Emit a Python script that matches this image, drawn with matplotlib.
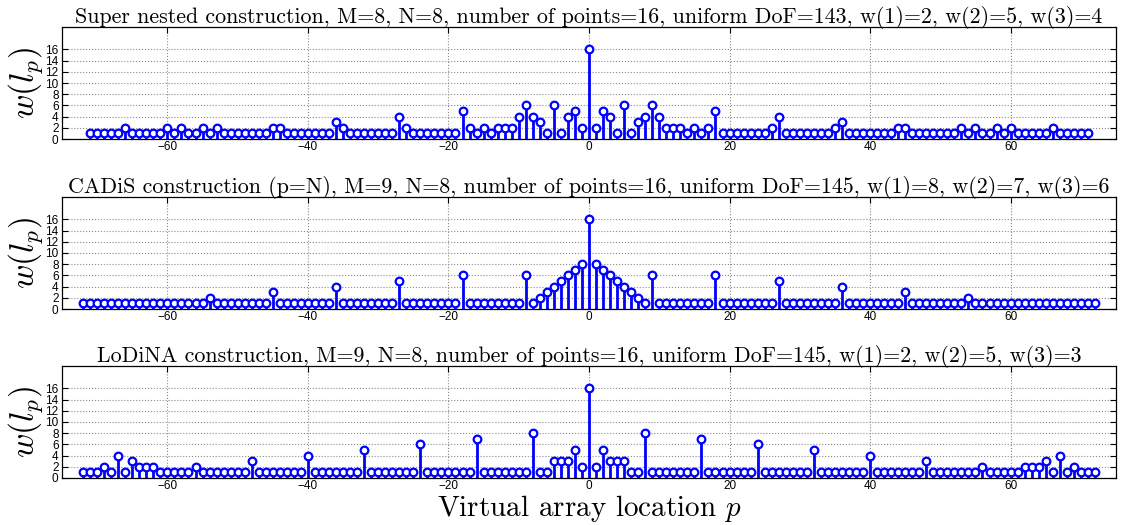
import numpy as np
import matplotlib
matplotlib.use('Agg')
import matplotlib.pyplot as plt

plt.rcParams['mathtext.fontset'] = 'cm'
plt.rcParams['axes.formatter.use_mathtext'] = False

# Virtual array locations (difference coarray lags)
lags_nested = np.arange(-71, 72)
lags_cadis = np.arange(-72, 73)
lags_lodina = np.arange(-72, 73)

# Weight functions w(l_p)
w_nested = [1, 1, 1, 1, 1, 2, 1, 1, 1, 1, 1,
            2, 1, 2, 1, 1, 2, 1, 2, 1, 1,
            1, 1, 1, 1, 1, 2, 2, 1, 1, 1,
            1, 1, 1, 1, 3, 2, 1, 1, 1, 1,
            1, 1, 1, 4, 2, 1, 1, 1, 1, 1,
            1, 1, 5, 2, 1, 2, 1, 2, 2, 2,
            4, 6, 4, 3, 1, 6, 1, 4, 5, 2,
            16,
            2, 5, 4, 1, 6, 1, 3, 4, 6, 4,
            2, 2, 2, 1, 2, 1, 2, 5, 1, 1,
            1, 1, 1, 1, 1, 2, 4, 1, 1, 1,
            1, 1, 1, 1, 2, 3, 1, 1, 1, 1,
            1, 1, 1, 2, 2, 1, 1, 1, 1, 1,
            1, 1, 2, 1, 2, 1, 1, 2, 1, 2,
            1, 1, 1, 1, 1, 2, 1, 1, 1, 1, 1]

w_cadis = [1, 1,
           1, 1, 1, 1, 1, 1, 1, 1, 1, 1,
           1, 1, 1, 1, 1, 1, 2, 1, 1, 1,
           1, 1, 1, 1, 1, 3, 1, 1, 1, 1,
           1, 1, 1, 1, 4, 1, 1, 1, 1, 1,
           1, 1, 1, 5, 1, 1, 1, 1, 1, 1,
           1, 1, 6, 1, 1, 1, 1, 1, 1, 1,
           1, 6, 1, 2, 3, 4, 5, 6, 7, 8,
           16,
           8, 7, 6, 5, 4, 3, 2, 1, 6, 1,
           1, 1, 1, 1, 1, 1, 1, 6, 1, 1,
           1, 1, 1, 1, 1, 1, 5, 1, 1, 1,
           1, 1, 1, 1, 1, 4, 1, 1, 1, 1,
           1, 1, 1, 1, 3, 1, 1, 1, 1, 1,
           1, 1, 1, 2, 1, 1, 1, 1, 1, 1,
           1, 1, 1, 1, 1, 1, 1, 1, 1, 1,
           1, 1]

w_lodina = [1, 1,
            1, 2, 1, 4, 1, 3, 2, 2, 2, 1,
            1, 1, 1, 1, 2, 1, 1, 1, 1, 1,
            1, 1, 3, 1, 1, 1, 1, 1, 1, 1,
            4, 1, 1, 1, 1, 1, 1, 1, 5, 1,
            1, 1, 1, 1, 1, 1, 6, 1, 1, 1,
            1, 1, 1, 1, 7, 1, 1, 1, 1, 1,
            1, 1, 8, 1, 1, 3, 3, 3, 5, 2,
            16,
            2, 5, 3, 3, 3, 1, 1, 8, 1, 1,
            1, 1, 1, 1, 1, 7, 1, 1, 1, 1,
            1, 1, 1, 6, 1, 1, 1, 1, 1, 1,
            1, 5, 1, 1, 1, 1, 1, 1, 1, 4,
            1, 1, 1, 1, 1, 1, 1, 3, 1, 1,
            1, 1, 1, 1, 1, 2, 1, 1, 1, 1,
            1, 2, 2, 2, 3, 1, 4, 1, 2, 1,
            1, 1]

titles = [
    'Super nested construction, M=8, N=8, number of points=16, uniform DoF=143, w(1)=2, w(2)=5, w(3)=4',
    'CADiS construction (p=N), M=9, N=8, number of points=16, uniform DoF=145, w(1)=8, w(2)=7, w(3)=6',
    'LoDiNA construction, M=9, N=8, number of points=16, uniform DoF=145, w(1)=2, w(2)=5, w(3)=3',
]

x_ticks = [-60, -40, -20, 0, 20, 40, 60]
y_ticks = [0, 2, 4, 6, 8, 10, 12, 14, 16]


def draw_panel(ax, lags, weights, title):
    markerline, stemlines, baseline = ax.stem(lags, weights, linefmt='b-',
                                              markerfmt='bo', basefmt=' ')
    plt.setp(stemlines, linewidth=2, color=(0, 0, 1))
    plt.setp(markerline, markersize=5.5, markerfacecolor='white',
             markeredgecolor=(0, 0, 1), markeredgewidth=1.6, zorder=3)
    ax.set_xlim(-75, 75)
    ax.set_ylim(0, 20)
    ax.set_xticks(x_ticks)
    ax.set_yticks(y_ticks)
    ax.grid(True, linestyle=':', color='0.55', linewidth=0.8)
    ax.set_axisbelow(True)
    ax.tick_params(direction='in', top=True, right=True, length=4,
                   labelsize=8.5, pad=2.5)
    ax.tick_params(axis='x', pad=1.5)
    for lab in ax.get_xticklabels() + ax.get_yticklabels():
        lab.set_family('Liberation Sans')
    ax.set_title(title, family='cmr10', fontsize=15.8, pad=3)
    ax.set_ylabel(r'$w(l_p)$', fontsize=24, labelpad=0)
    for sp in ax.spines.values():
        sp.set_linewidth(0.9)


fig = plt.figure(figsize=(11.36, 5.25), dpi=100)
left, width, height = 62 / 1136, 1054 / 1136, 112 / 525
bottoms = [1 - 139 / 525, 1 - 309 / 525, 1 - 478 / 525]

data = [(lags_nested, w_nested), (lags_cadis, w_cadis), (lags_lodina, w_lodina)]
for i in range(3):
    ax = fig.add_axes([left, bottoms[i], width, height])
    draw_panel(ax, data[i][0], data[i][1], titles[i])

# common x label under the bottom panel
fig.text(589 / 1136, 0.5 / 525, r'Virtual array location $p$', family='cmr10',
         fontsize=21, ha='center', va='bottom')

fig.savefig('out.png', dpi=100)
